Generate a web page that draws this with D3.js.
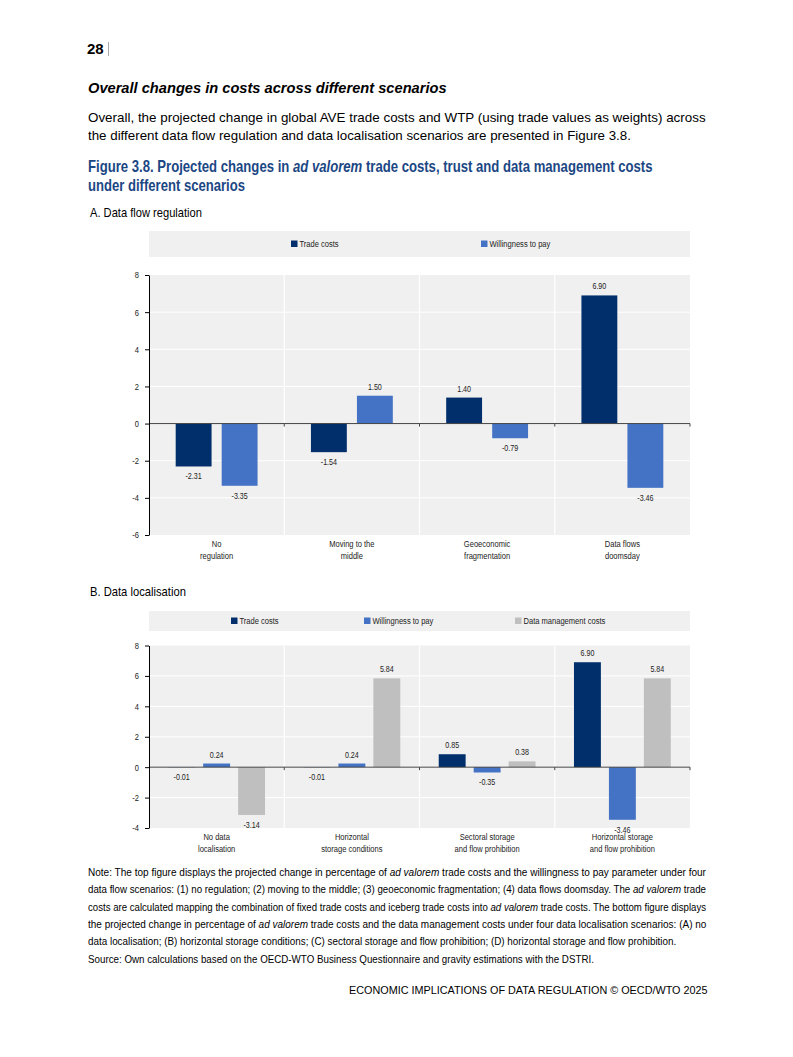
<!DOCTYPE html>
<html>
<head>
<meta charset="utf-8">
<title></title>
<style>
	html, body { margin: 0; padding: 0; background: #fff; }
	body { width: 793px; height: 1057px; overflow: hidden; }
	svg { display: block; }
</style>
</head>
<body>

<svg class="page" width="793" height="1057"></svg>

<script src="https://d3js.org/d3.v7.min.js"></script>
<script>

// ---- data, panel A
var seriesA = ['Trade costs', 'Willingness to pay']
var catsA = [['No', 'regulation'], ['Moving to the', 'middle'], ['Geoeconomic', 'fragmentation'], ['Data flows', 'doomsday']]
var tradeA = [-2.31, -1.54, 1.40, 6.90]
var wtpA = [-3.35, 1.50, -0.79, -3.46]
var ticksA = [-6, -4, -2, 0, 2, 4, 6, 8]

// ---- data, panel B
var seriesB = ['Trade costs', 'Willingness to pay', 'Data management costs']
var catsB = [['No data', 'localisation'], ['Horizontal', 'storage conditions'], ['Sectoral storage', 'and flow prohibition'], ['Horizontal storage', 'and flow prohibition']]
var tradeB = [-0.01, -0.01, 0.85, 6.90]
var wtpB = [0.24, 0.24, -0.35, -3.46]
var dmcB = [-3.14, 5.84, 0.38, 5.84]
var ticksB = [-4, -2, 0, 2, 4, 6, 8]

var colours = ['#002f6c', '#4472c4', '#bfbfbf']
var sans = '"Liberation Sans", Arial, sans-serif'
var fmt = function(v) { return d3.format('.2f')(v).replace('\u2212', '-') }

var svg = d3.select('.page')

// squeeze a text horizontally (about its own x) so it looks like a narrow face
function narrow(sel, k) {
	sel.each(function() {
		var x0 = +d3.select(this).attr('x') || 0
		d3.select(this).attr('transform', 'translate(' + x0 + ',0) scale(' + k + ',1) translate(' + (-x0) + ',0)')
	})
}

// a line of page text; parts = [[string, italic?], ...], scaled to the given width
function addText(parts, x, y, o) {
	if (typeof parts === 'string') parts = [[parts]]
	var g = svg.append('g')
	var t = g.append('text').attr('x', 0).attr('y', 0)
		.attr('font-family', sans)
		.attr('font-size', o.size)
		.attr('fill', o.fill || '#000')
		.attr('font-weight', o.weight || null)
		.attr('font-style', o.style || null)
		.attr('xml:space', 'preserve')
	parts.forEach(function(p) {
		t.append('tspan').attr('font-style', p[1] ? 'italic' : null).text(p[0])
	})
	var w = t.node().getComputedTextLength()
	var k = o.width ? o.width / w : 1
	var left = o.anchor === 'end' ? x - w * k : x
	g.attr('transform', 'translate(' + left + ',' + y + ') scale(' + k + ',1)')
}

// ---- page text
addText('28', 87, 54, { size: 15, weight: 'bold' })
svg.append('line').attr('x1', 108.5).attr('x2', 108.5).attr('y1', 42).attr('y2', 56).attr('stroke', '#aaa')

addText('Overall changes in costs across different scenarios', 88, 93, { size: 15, weight: 'bold', style: 'italic', width: 359 })

addText('Overall, the projected change in global AVE trade costs and WTP (using trade values as weights) across', 88, 122, { size: 13.4, width: 618 })
addText('the different data flow regulation and data localisation scenarios are presented in Figure 3.8.', 88, 140, { size: 13.4, width: 543 })

addText([['Figure 3.8. Projected changes in '], ['ad valorem', true], [' trade costs, trust and data management costs']], 88, 172,
	{ size: 16, weight: 'bold', fill: '#1b4784', width: 565 })
addText('under different scenarios', 88, 191, { size: 16, weight: 'bold', fill: '#1b4784', width: 157 })

addText('A. Data flow regulation', 90, 216.5, { size: 12.5, width: 112 })
addText('B. Data localisation', 90, 595.5, { size: 12.5, width: 96 })

var note = [
	{ w: 618, p: [['Note: The top figure displays the projected change in percentage of '], ['ad valorem', true], [' trade costs and the willingness to pay parameter under four']] },
	{ w: 618, p: [['data flow scenarios: (1) no regulation; (2) moving to the middle; (3) geoeconomic fragmentation; (4) data flows doomsday. The '], ['ad valorem', true], [' trade']] },
	{ w: 618, p: [['costs are calculated mapping the combination of fixed trade costs and iceberg trade costs into '], ['ad valorem', true], [' trade costs. The bottom figure displays']] },
	{ w: 618, p: [['the projected change in percentage of '], ['ad valorem', true], [' trade costs and the data management costs under four data localisation scenarios: (A) no']] },
	{ w: 588, p: [['data localisation; (B) horizontal storage conditions; (C) sectoral storage and flow prohibition; (D) horizontal storage and flow prohibition.']] },
	{ w: 506, p: [['Source: Own calculations based on the OECD-WTO Business Questionnaire and gravity estimations with the DSTRI.']] }
]
note.forEach(function(l, i) {
	addText(l.p, 88, 876 + i * 17.3, { size: 11.4, width: l.w })
})

addText('ECONOMIC IMPLICATIONS OF DATA REGULATION \u00a9 OECD/WTO 2025', 708, 994, { size: 11.5, anchor: 'end', width: 359 })

// ---- chart panels
function drawPanel(cfg, cats, series, values, ticks) {
	var g = svg.append('g')
	var names = cats.map(function(c) { return c.join(' ') })

	var y = d3.scaleLinear()
		.domain([ticks[0], ticks[ticks.length - 1]])
		.range([cfg.bottom, cfg.top])
	var x = d3.scaleBand()
		.domain(names)
		.range([cfg.left, cfg.right])
	var xs = d3.scaleBand()
		.domain(series)
		.range([0, x.bandwidth()])
		.paddingInner(cfg.padIn)
		.paddingOuter(cfg.padOut)

	// legend
	g.append('rect')
		.attr('x', cfg.left).attr('y', cfg.legTop)
		.attr('width', cfg.right - cfg.left).attr('height', cfg.legBot - cfg.legTop)
		.attr('fill', '#f0f0f0')
	var leg = g.selectAll('.leg').data(series).enter().append('g')
		.attr('transform', function(d, i) { return 'translate(' + cfg.legX[i] + ',' + ((cfg.legTop + cfg.legBot) / 2) + ')' })
	leg.append('rect')
		.attr('x', 0).attr('y', -3.5).attr('width', 6.5).attr('height', 6.5)
		.attr('fill', function(d, i) { return colours[i] })
	leg.append('text')
		.attr('x', 8.5).attr('y', 3)
		.attr('font-size', 9).attr('font-family', sans).attr('fill', '#222')
		.text(function(d) { return d })
		.call(narrow, 0.84)

	// plot background, gridlines, separators
	g.append('rect')
		.attr('x', cfg.left).attr('y', cfg.top)
		.attr('width', cfg.right - cfg.left).attr('height', cfg.bottom - cfg.top)
		.attr('fill', '#f0f0f0')
	g.selectAll('.grid').data(ticks.slice(1, -1)).enter().append('line')
		.attr('x1', cfg.left).attr('x2', cfg.right)
		.attr('y1', function(d) { return y(d) }).attr('y2', function(d) { return y(d) })
		.attr('stroke', '#fff').attr('stroke-width', 1)
	g.selectAll('.sep').data(names.slice(1)).enter().append('line')
		.attr('x1', function(d) { return x(d) }).attr('x2', function(d) { return x(d) })
		.attr('y1', cfg.top).attr('y2', cfg.bottom)
		.attr('stroke', '#fff').attr('stroke-width', 1.2)

	// bars
	var rows = []
	names.forEach(function(n, ci) {
		series.forEach(function(s, si) {
			rows.push({ cat: n, s: s, si: si, v: values[si][ci] })
		})
	})
	g.selectAll('.bar').data(rows).enter().append('rect')
		.attr('x', function(d) { return x(d.cat) + xs(d.s) })
		.attr('width', xs.bandwidth())
		.attr('y', function(d) { return Math.min(y(d.v), y(0)) })
		.attr('height', function(d) { return Math.abs(y(d.v) - y(0)) })
		.attr('fill', function(d) { return colours[d.si] })

	// value labels
	g.selectAll('.val').data(rows).enter().append('text')
		.attr('x', function(d) { return x(d.cat) + xs(d.s) + xs.bandwidth() / 2 })
		.attr('y', function(d) { return d.v >= 0 ? y(d.v) - 6 : y(d.v) + 13 })
		.attr('text-anchor', 'middle')
		.attr('font-size', 8.5).attr('font-family', sans).attr('fill', '#222')
		.text(function(d) { return fmt(d.v) })
		.call(narrow, 0.84)

	// zero line with category ticks
	g.append('line')
		.attr('x1', cfg.left).attr('x2', cfg.right)
		.attr('y1', y(0)).attr('y2', y(0))
		.attr('stroke', '#444').attr('stroke-width', 1)
	g.selectAll('.ztick').data(names.slice(1).map(function(d) { return x(d) }).concat([cfg.right])).enter().append('line')
		.attr('x1', function(d) { return d }).attr('x2', function(d) { return d })
		.attr('y1', y(0)).attr('y2', y(0) + 3)
		.attr('stroke', '#444')

	// y axis
	var ax = g.append('g')
		.attr('transform', 'translate(' + cfg.left + ',0)')
		.call(d3.axisLeft(y).tickValues(ticks).tickFormat(function(d) { return String(d) })
			.tickSize(4).tickPadding(6).tickSizeOuter(0))
	ax.select('.domain').attr('stroke', '#000')
	ax.selectAll('.tick line').attr('stroke', '#000')
	ax.selectAll('text').attr('font-size', 9).attr('font-family', sans).attr('fill', '#222')
		.call(narrow, 0.84)

	// category labels, two lines each
	;[0, 1].forEach(function(li) {
		g.selectAll('.cat' + li).data(cats).enter().append('text')
			.attr('text-anchor', 'middle')
			.attr('font-size', 9).attr('font-family', sans).attr('fill', '#222')
			.attr('x', function(d) { return x(d.join(' ')) + x.bandwidth() / 2 })
			.attr('y', cfg.bottom + 12 + li * 12)
			.text(function(d) { return d[li] })
			.call(narrow, 0.84)
	})
}

drawPanel({
	left: 149, right: 690, top: 275, bottom: 535,
	legTop: 231, legBot: 257, legX: [291, 481],
	padIn: 0.22, padOut: 0.58
}, catsA, seriesA, [tradeA, wtpA], ticksA)

drawPanel({
	left: 149, right: 690, top: 645.5, bottom: 828,
	legTop: 611, legBot: 631, legX: [231, 364, 515],
	padIn: 0.23, padOut: 0.55
}, catsB, seriesB, [tradeB, wtpB, dmcB], ticksB)

</script>
</body>
</html>
